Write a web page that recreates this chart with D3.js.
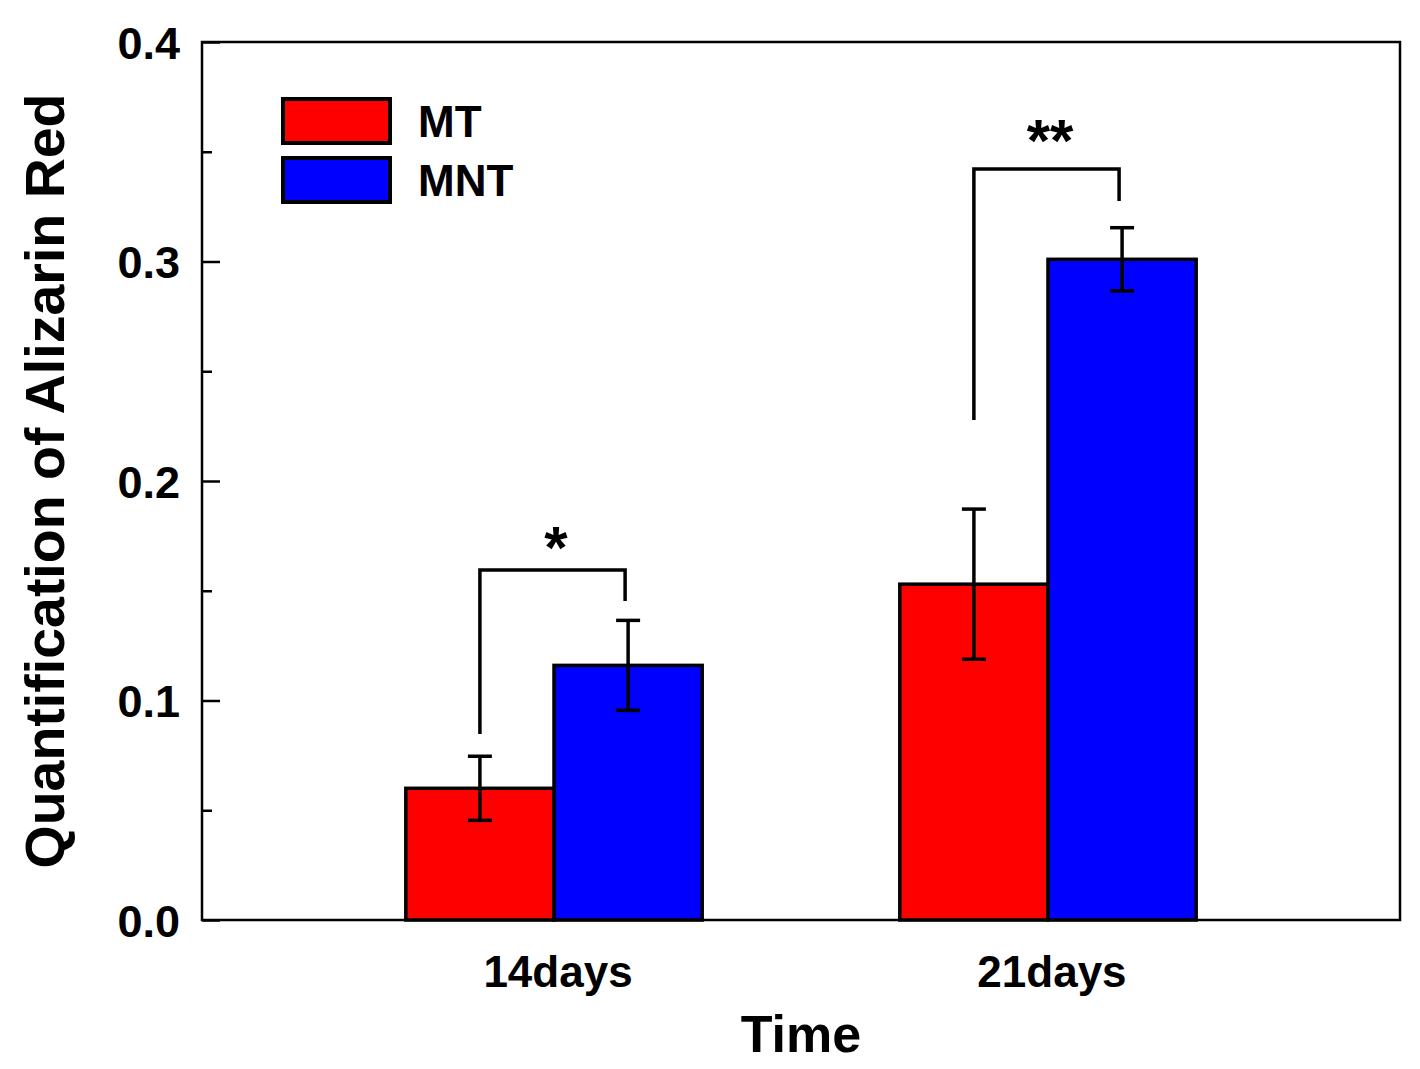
<!DOCTYPE html>
<html>
<head>
<meta charset="utf-8">
<script src="https://cdn.jsdelivr.net/npm/d3@7"></script>
<style>
  html, body { margin: 0; padding: 0; background: #fff; }
  text { font-family: "Liberation Sans", Arial, sans-serif; font-weight: bold; fill: #000; }
</style>
</head>
<body>
<div id="chart"></div>
<script>
// categories and series
const categories = ["14days", "21days"]
const seriesNames = ["MT", "MNT"]
const seriesColors = ["#ff0000", "#0000ff"]
const mtValues = [0.060, 0.153]
const mtErrors = [0.0146, 0.0342]
const mntValues = [0.116, 0.301]
const mntErrors = [0.0205, 0.0144]
const yTicks = [0, 0.1, 0.2, 0.3, 0.4]
const yMinorTicks = [0.05, 0.15, 0.25, 0.35]
// significance brackets: top, left leg end, right leg end (data units)
const sigLabels = ["*", "**"]
const sigTop = [0.1595, 0.3421]
const sigLeftEnd = [0.0847, 0.2278]
const sigRightEnd = [0.1453, 0.3276]

const W = 1420, H = 1069
const margin = { left: 202, top: 42, right: 20, bottom: 149 }
const width = W - margin.left - margin.right
const height = H - margin.top - margin.bottom

const svg = d3.select("#chart").append("svg")
  .attr("width", W)
  .attr("height", H)

const g = svg.append("g")
  .attr("transform", "translate(" + margin.left + "," + margin.top + ")")

const x = d3.scalePoint().domain(categories).range([0, width]).padding(0.7126)
const y = d3.scaleLinear().domain([0, 0.4]).range([height, 0])
const bw = x.step() * 0.3

const series = [
  { name: seriesNames[0], color: seriesColors[0], values: mtValues, errors: mtErrors, offset: -1 },
  { name: seriesNames[1], color: seriesColors[1], values: mntValues, errors: mntErrors, offset: 0 }
]

// bars
series.forEach(s => {
  const rows = categories.map((c, i) => ({ c, v: s.values[i], e: s.errors[i] }))
  g.append("g").selectAll("rect")
    .data(rows)
    .enter().append("rect")
      .attr("x", d => x(d.c) + s.offset * bw)
      .attr("y", d => y(d.v))
      .attr("width", bw)
      .attr("height", d => y(0) - y(d.v))
      .attr("fill", s.color)
      .attr("stroke", "#000")
      .attr("stroke-width", 3.5)

  // error bars
  const eg = g.append("g").attr("stroke", "#000").attr("stroke-width", 3.5)
  rows.forEach(d => {
    const cx = x(d.c) + s.offset * bw + bw / 2
    eg.append("line").attr("x1", cx).attr("x2", cx).attr("y1", y(d.v + d.e)).attr("y2", y(d.v - d.e))
    eg.append("line").attr("x1", cx - 12).attr("x2", cx + 12).attr("y1", y(d.v + d.e)).attr("y2", y(d.v + d.e))
    eg.append("line").attr("x1", cx - 12).attr("x2", cx + 12).attr("y1", y(d.v - d.e)).attr("y2", y(d.v - d.e))
  })
})

// significance brackets
categories.forEach((c, i) => {
  const xl = x(c) - bw / 2
  const xr = x(c) + bw / 2 - 3
  g.append("path")
    .attr("d", "M" + xl + "," + y(sigLeftEnd[i]) + "V" + y(sigTop[i]) + "H" + xr + "V" + y(sigRightEnd[i]))
    .attr("fill", "none")
    .attr("stroke", "#000")
    .attr("stroke-width", 3.5)
  g.append("text")
    .attr("x", x(c) + 2)
    .attr("y", y(sigTop[i]) - 2 - i * 6)
    .attr("text-anchor", "middle")
    .style("font-size", "60px")
    .text(sigLabels[i])
})

// y axis
const yAxis = d3.axisLeft(y).tickValues(yTicks).tickFormat(d3.format(".1f"))
  .tickSizeInner(-18).tickSizeOuter(0).tickPadding(22)
const ya = g.append("g").call(yAxis)
ya.select(".domain").remove()
ya.selectAll("line").attr("stroke", "#000").attr("stroke-width", 2.5)
ya.selectAll("text").style("font-size", "45px").attr("dy", "0.36em")

const yMinor = d3.axisLeft(y).tickValues(yMinorTicks).tickFormat("").tickSizeInner(-10).tickSizeOuter(0)
const ym = g.append("g").call(yMinor)
ym.select(".domain").remove()
ym.selectAll("line").attr("stroke", "#000").attr("stroke-width", 2.5)

// x labels
g.append("g").selectAll("text")
  .data(categories)
  .enter().append("text")
    .attr("x", d => x(d) + 4)
    .attr("y", height + 67)
    .attr("text-anchor", "middle")
    .style("font-size", "44px")
    .text(d => d)

// frame
g.append("rect")
  .attr("width", width)
  .attr("height", height)
  .attr("fill", "none")
  .attr("stroke", "#000")
  .attr("stroke-width", 2.5)

// axis titles
svg.append("text")
  .attr("x", margin.left + width / 2)
  .attr("y", 1052)
  .attr("text-anchor", "middle")
  .style("font-size", "52px")
  .text("Time")

svg.append("text")
  .attr("transform", "translate(64,481)rotate(-90)")
  .attr("text-anchor", "middle")
  .style("font-size", "55.5px")
  .text("Quantification of Alizarin Red")

// legend
const legend = g.append("g").attr("transform", "translate(81,57)")
series.forEach((s, i) => {
  legend.append("rect")
    .attr("x", 0)
    .attr("y", i * 59)
    .attr("width", 107)
    .attr("height", 44)
    .attr("fill", s.color)
    .attr("stroke", "#000")
    .attr("stroke-width", 4)
  legend.append("text")
    .attr("x", 135)
    .attr("y", i * 59 + 38)
    .style("font-size", "44px")
    .text(s.name)
})
</script>
</body>
</html>
